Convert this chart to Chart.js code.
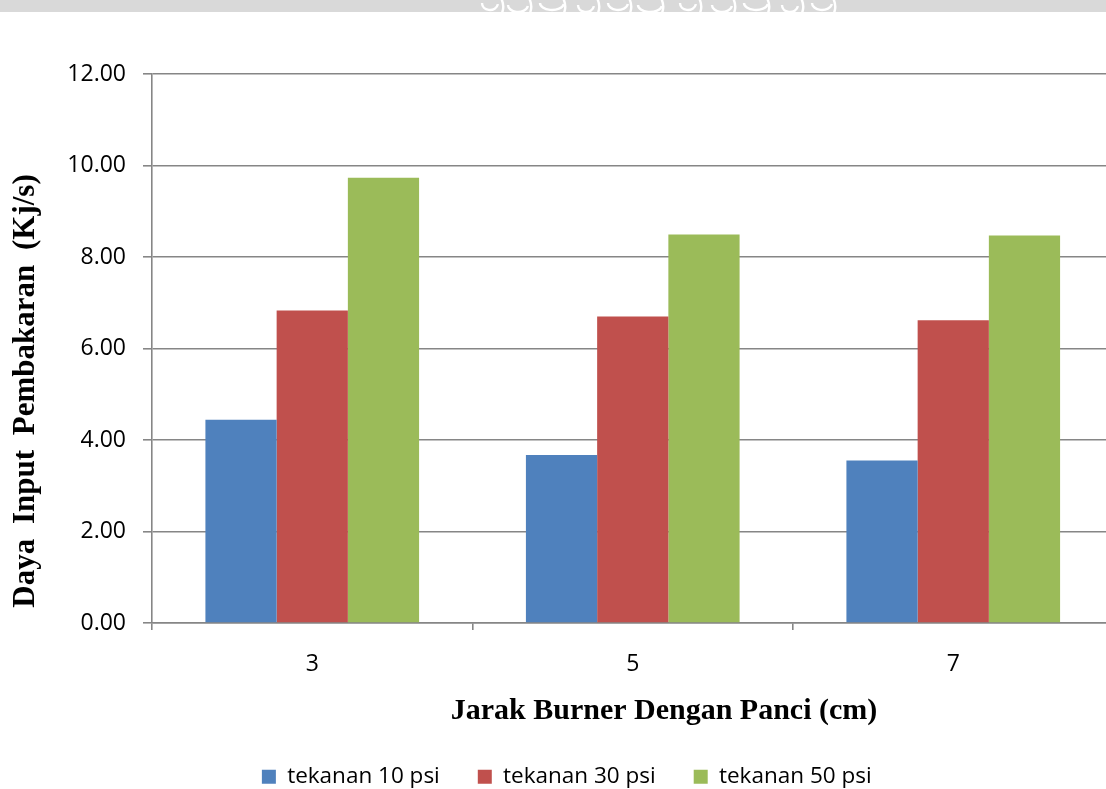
<!DOCTYPE html>
<html>
<head>
<meta charset="utf-8">
<script src="https://cdn.jsdelivr.net/npm/chart.js@4.4.1/dist/chart.umd.min.js"></script>
<style>
  html, body { margin: 0; padding: 0; background: #ffffff; overflow: hidden; }
  #wrap { position: relative; width: 1120px; height: 798px; }
</style>
</head>
<body>
<div id="wrap"><canvas id="chart"></canvas></div>
<script>
// Burner-to-pan distance (cm)
const categories = ['3', '5', '7'];

// Combustion input power (kJ/s) per gas pressure
const tekanan10 = [4.44, 3.67, 3.55];
const tekanan30 = [6.83, 6.70, 6.62];
const tekanan50 = [9.73, 8.49, 8.47];

const seriesLabels = ['tekanan 10 psi', 'tekanan 30 psi', 'tekanan 50 psi'];
const seriesColors = ['#4f81bd', '#c0504d', '#9bbb59'];

const yTitle = 'Daya Input Pembakaran (Kj/s)';
const xTitle = 'Jarak Burner Dengan Panci (cm)';

const gridGray = '#868686';

// grey page strip along the top edge with a faint white ornament
const headerStrip = {
  id: 'headerStrip',
  beforeDraw(chart) {
    const ctx = chart.ctx;
    ctx.save();
    ctx.fillStyle = '#d9d9d9';
    ctx.fillRect(0, 0, chart.width, 12);
    ctx.beginPath();
    ctx.rect(0, 0, chart.width, 12);
    ctx.clip();
    ctx.strokeStyle = '#ffffff';
    ctx.lineWidth = 2.4;
    const curls = [490, 518, 552, 586, 618, 650, 688, 722, 756, 790, 822];
    curls.forEach((cx, i) => {
      ctx.beginPath();
      ctx.ellipse(cx, 3 + (i % 2) * 2, 8 + (i % 3) * 2, 7, 0, 0.05 * Math.PI, 1.0 * Math.PI);
      ctx.stroke();
      ctx.beginPath();
      ctx.moveTo(cx + 11, -2);
      ctx.quadraticCurveTo(cx + 15, 6, cx + 12, 13);
      ctx.stroke();
    });
    ctx.restore();
  }
};

// axis titles in bold serif
const axisTitles = {
  id: 'axisTitles',
  afterDraw(chart) {
    const ctx = chart.ctx;
    ctx.save();
    ctx.fillStyle = '#000000';
    ctx.textAlign = 'center';
    ctx.textBaseline = 'middle';
    ctx.font = 'bold 30px "Liberation Serif", "Times New Roman", serif';
    ctx.fillText(xTitle, 664, 711);
    ctx.translate(26, 391);
    ctx.rotate(-Math.PI / 2);
    ctx.font = 'bold 31px "Liberation Serif", "Times New Roman", serif';
    if ('wordSpacing' in ctx) ctx.wordSpacing = '7px';
    ctx.fillText(yTitle, 0, 0);
    ctx.restore();
  }
};

new Chart(document.getElementById('chart'), {
  type: 'bar',
  data: {
    labels: categories,
    datasets: [
      { label: seriesLabels[0], data: tekanan10, backgroundColor: seriesColors[0] },
      { label: seriesLabels[1], data: tekanan30, backgroundColor: seriesColors[1] },
      { label: seriesLabels[2], data: tekanan50, backgroundColor: seriesColors[2] }
    ]
  },
  options: {
    responsive: true,
    maintainAspectRatio: false,
    animation: false,
    devicePixelRatio: 1,
    layout: { padding: { left: 20, right: 6.5, top: 74, bottom: 0 } },
    datasets: {
      bar: { categoryPercentage: 3 / 4.5, barPercentage: 1.0, borderWidth: 0 }
    },
    plugins: {
      legend: {
        position: 'bottom',
        labels: {
          boxWidth: 14,
          boxHeight: 14,
          padding: 38,
          color: '#000000',
          font: { family: '"Open Sans", sans-serif', size: 22.5 }
        }
      },
      tooltip: { enabled: false }
    },
    scales: {
      x: {
        afterFit(scale) { scale.height = 104.5; },
        grid: {
          offset: true,
          drawOnChartArea: false,
          color: gridGray,
          lineWidth: 1.6,
          tickLength: 7
        },
        border: { color: gridGray, width: 1.6 },
        ticks: {
          color: '#000000',
          padding: 21,
          font: { family: '"Open Sans", sans-serif', size: 23 }
        }
      },
      y: {
        min: 0,
        max: 12,
        afterFit(scale) { scale.width = 132; },
        grid: { color: gridGray, lineWidth: 1.6, tickLength: 9 },
        border: { color: gridGray, width: 1.6 },
        ticks: {
          stepSize: 2,
          color: '#000000',
          padding: 17,
          font: { family: '"Open Sans", sans-serif', size: 23 },
          callback: (v) => Number(v).toFixed(2)
        }
      }
    }
  },
  plugins: [headerStrip, axisTitles]
});
</script>
</body>
</html>
